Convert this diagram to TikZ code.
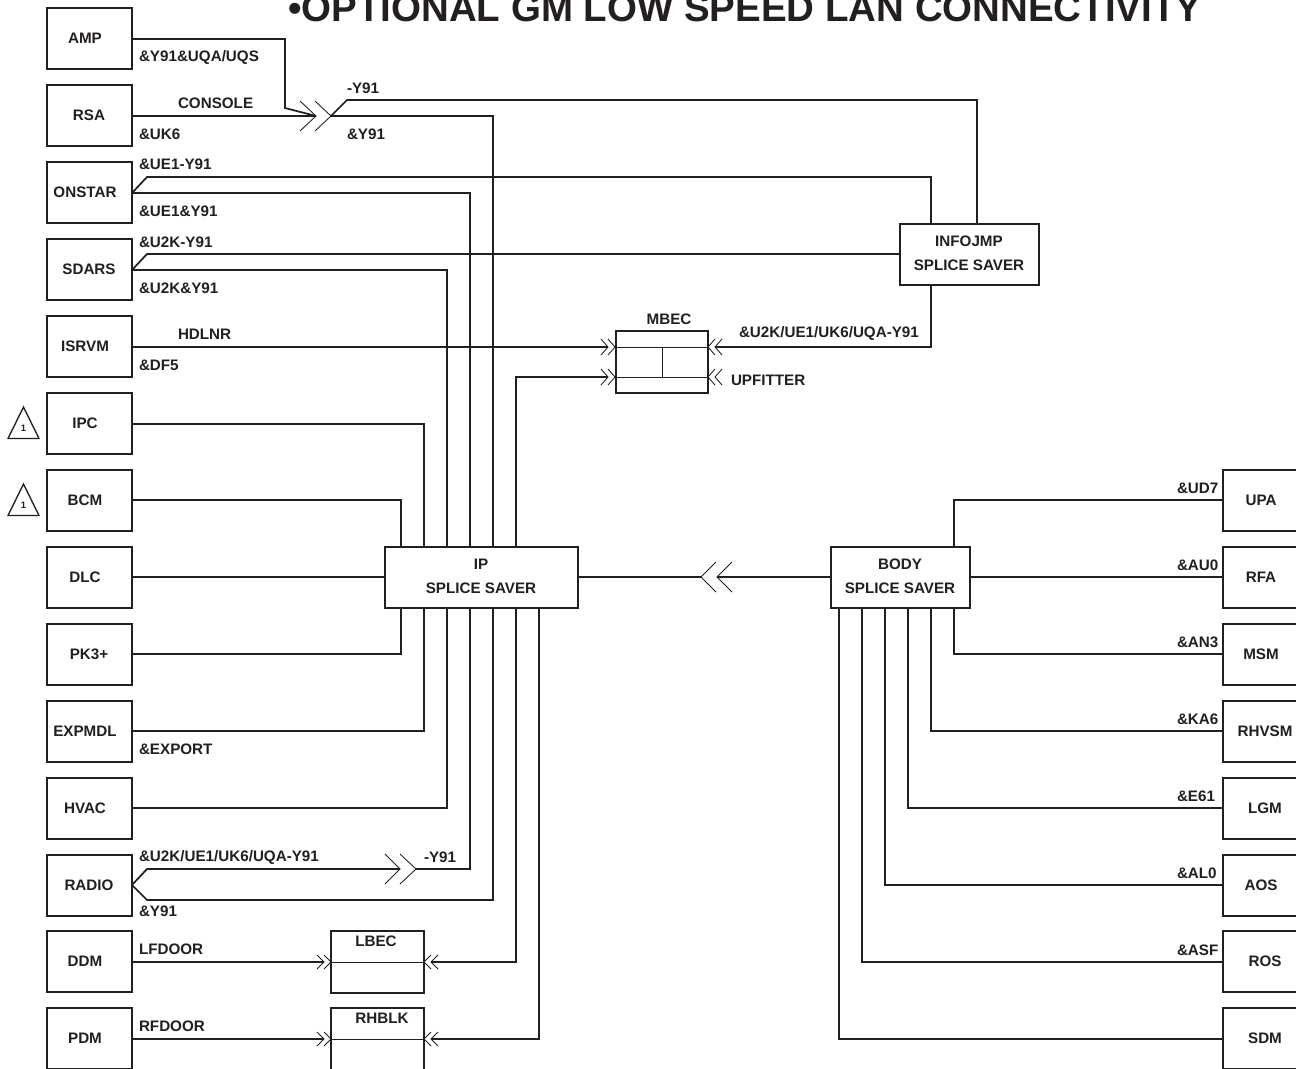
\documentclass[tikz,border=0pt]{standalone}
\usepackage{fontspec}
\setmainfont{Liberation Sans}
\definecolor{ink}{HTML}{231F20}
\newcommand{\chevr}[4]{\draw[chevline] (#1+#3,#2-#4) -- (#1,#2) -- (#1+#3,#2+#4);}
\newcommand{\lbox}[4]{\node[bx,minimum width=63.75pt,minimum height=45.75pt] (#1) at (89.5,#2) {};\node[lbl] (#1-t) at (#3,#2) {#4};}
\newcommand{\rbox}[4]{\node[bx,minimum width=63.75pt,minimum height=45.75pt] (#1) at (1265.5,#2) {};\node[lbl] (#1-t) at (#3,#2) {#4};}
\newcommand{\tagl}[4]{\node[lbl,anchor=west] (#1) at (#2,#3) {#4};}
\tikzset{
  bx/.style={draw=ink,line width=1.4pt,inner sep=0pt,outer sep=0pt,fill=none},
  lbl/.style={text=ink,inner sep=0pt,outer sep=0pt,font=\fontsize{11.4}{18}\selectfont\bfseries,align=center},
  wire/.style={draw=ink,line width=1.3pt,line join=miter},
  thin wire/.style={draw=ink,line width=0.6pt},
  chevline/.style={draw=ink,line width=0.65pt,line join=miter},
}
\begin{document}
\begin{tikzpicture}[x=0.75pt,y=-0.75pt]
\useasboundingbox (0,0) rectangle (1296,1068);
\clip (0,0) rectangle (1296,1068);
\fill[white] (0,0) rectangle (1296,1068);
\node[text=ink,anchor=base west,inner sep=0pt,font=\fontsize{28.85}{30}\selectfont\bfseries] (title) at (288,21.5) {•OPTIONAL GM LOW SPEED LAN CONNECTIVITY};
% left boxes
\lbox{amp}{38.5}{85}{AMP}
\lbox{rsa}{115.5}{89}{RSA}
\lbox{onstar}{192.5}{85}{ONSTAR}
\lbox{sdars}{269.5}{89}{SDARS}
\lbox{isrvm}{346.5}{85}{ISRVM}
\lbox{ipc}{423.5}{85}{IPC}
\lbox{bcm}{500.5}{85}{BCM}
\lbox{dlc}{577.5}{85}{DLC}
\lbox{pk}{654.5}{89}{PK3+}
\lbox{expmdl}{731.5}{85}{EXPMDL}
\lbox{hvac}{808.5}{85}{HVAC}
\lbox{radio}{885.5}{89}{RADIO}
\lbox{ddm}{961.5}{85}{DDM}
\lbox{pdm}{1038.5}{85}{PDM}
% right boxes
\rbox{upa}{500.5}{1261}{UPA}
\rbox{rfa}{577.5}{1261}{RFA}
\rbox{msm}{654.5}{1261}{MSM}
\rbox{rhvsm}{731.5}{1265}{RHVSM}
\rbox{lgm}{808.5}{1265}{LGM}
\rbox{aos}{885.5}{1261}{AOS}
\rbox{ros}{961.5}{1265}{ROS}
\rbox{sdm}{1038.5}{1265}{SDM}
% splice savers
\node[bx,minimum width=144.75pt,minimum height=45.75pt] (ip) at (481.5,577.5) {};
\node[lbl] (ip-t) at (481,576) {IP\\SPLICE SAVER};
\node[bx,minimum width=104.25pt,minimum height=45.75pt] (body) at (900.5,577.5) {};
\node[lbl] (body-t) at (900,576) {BODY\\SPLICE SAVER};
\node[bx,minimum width=104.25pt,minimum height=45.75pt] (info) at (969.5,254.5) {};
\node[lbl] (info-t) at (969,253) {INFOJMP\\SPLICE SAVER};
% control modules
\node[bx,minimum width=69pt,minimum height=46.5pt] (mbec) at (662,362) {};
\node[lbl] (mbec-t) at (669,319) {MBEC};
\node[bx,minimum width=69.75pt,minimum height=46.5pt] (lbec) at (377.5,962) {};
\node[lbl] (lbec-t) at (376,941) {LBEC};
\node[bx,minimum width=69.75pt,minimum height=46.5pt] (rhblk) at (377.5,1039) {};
\node[lbl] (rhblk-t) at (382,1018) {RHBLK};
\draw[thin wire] (mbec.west |- 0,347) -- (mbec.east |- 0,347);
\draw[thin wire] (mbec.west |- 0,377) -- (mbec.east |- 0,377);
\draw[thin wire] (mbec.center |- 0,347) -- (mbec.center |- 0,377);
\draw[thin wire] (lbec.west) -- (lbec.east);
\draw[thin wire] (rhblk.west) -- (rhblk.east);
% chevrons
\chevr{316}{116}{-16}{15}
\chevr{331}{116}{-16}{15}
\chevr{400}{869}{-15}{15}
\chevr{416}{869}{-16}{15}
\chevr{701}{577}{15}{15}
\chevr{717}{577}{15}{15}
\chevr{608}{347}{-7}{8}
\chevr{615}{347}{-7}{8}
\chevr{608}{377}{-7}{8}
\chevr{615}{377}{-7}{8}
\chevr{708}{347}{7}{8}
\chevr{715}{347}{7}{8}
\chevr{708}{377}{7}{8}
\chevr{715}{377}{7}{8}
\chevr{324}{962}{-7}{7}
\chevr{331}{962}{-7}{7}
\chevr{424}{962}{7}{7}
\chevr{431}{962}{7}{7}
\chevr{324}{1039}{-7}{7}
\chevr{331}{1039}{-7}{7}
\chevr{424}{1039}{7}{7}
\chevr{431}{1039}{7}{7}
\coordinate (jA) at (316,116);
\coordinate (jB) at (331,116);
\coordinate (jC) at (400,869);
\coordinate (jD) at (416,869);
\coordinate (jE) at (701,577);
\coordinate (jF) at (717,577);
\coordinate (jG) at (608,347);
\coordinate (jH) at (608,377);
\coordinate (jI) at (715,347);
\coordinate (jJ) at (324,962);
\coordinate (jK) at (431,962);
\coordinate (jL) at (324,1039);
\coordinate (jM) at (431,1039);
% upper wires
\draw[wire] (amp.east |- 0,39) -- (285,39) -- (285,108) -- (jA);
\draw[wire] (rsa.east |- jA) -- (jA);
\draw[wire] (jB) -- (493,116) -- (493,0 |- ip.north);
\draw[wire] (jB) -- (347,100) -- (977,100) -- (977,0 |- info.north);
\draw[wire] (onstar.east |- 0,193) -- (147,177) -- (931,177) -- (931,0 |- info.north);
\draw[wire] (onstar.east |- 0,193) -- (470,193) -- (470,0 |- ip.north);
\draw[wire] (sdars.east |- 0,270) -- (147,254) -- (info.west |- 0,254);
\draw[wire] (sdars.east |- 0,270) -- (447,270) -- (447,0 |- ip.north);
\draw[wire] (isrvm.east |- jG) -- (jG);
\draw[wire] (931,0 |- info.south) -- (931,347) -- (jI);
\draw[wire] (516,0 |- ip.north) -- (516,377) -- (jH);
\draw[wire] (ipc.east |- 0,424) -- (424,424) -- (424,0 |- ip.north);
\draw[wire] (bcm.east |- 0,500) -- (401,500) -- (401,0 |- ip.north);
\draw[wire] (dlc.east |- 0,577) -- (ip.west |- 0,577);
\draw[wire] (pk.east |- 0,654) -- (401,654) -- (401,0 |- ip.south);
\draw[wire] (expmdl.east |- 0,731) -- (424,731) -- (424,0 |- ip.south);
\draw[wire] (hvac.east |- 0,808) -- (447,808) -- (447,0 |- ip.south);
\draw[wire] (radio.east |- 0,885) -- (147,869) -- (jC);
\draw[wire] (jD) -- (470,869) -- (470,0 |- ip.south);
\draw[wire] (radio.east |- 0,885) -- (147,900) -- (493,900) -- (493,0 |- ip.south);
\draw[wire] (ddm.east |- jJ) -- (jJ);
\draw[wire] (pdm.east |- jL) -- (jL);
\draw[wire] (516,0 |- ip.south) -- (516,962) -- (jK);
\draw[wire] (539,0 |- ip.south) -- (539,1039) -- (jM);
\draw[wire] (ip.east |- jE) -- (jE);
\draw[wire] (jF) -- (body.west |- jF);
% right wires
\draw[wire] (upa.west |- 0,500) -- (954,500) -- (954,0 |- body.north);
\draw[wire] (rfa.west |- 0,577) -- (body.east |- 0,577);
\draw[wire] (msm.west |- 0,654) -- (954,654) -- (954,0 |- body.south);
\draw[wire] (rhvsm.west |- 0,731) -- (931,731) -- (931,0 |- body.south);
\draw[wire] (lgm.west |- 0,808) -- (908,808) -- (908,0 |- body.south);
\draw[wire] (aos.west |- 0,885) -- (885,885) -- (885,0 |- body.south);
\draw[wire] (ros.west |- 0,962) -- (862,962) -- (862,0 |- body.south);
\draw[wire] (sdm.west |- 0,1039) -- (839,1039) -- (839,0 |- body.south);
% labels
\tagl{a1}{139}{57.5}{\&Y91\&UQA/UQS}
\tagl{a2}{178}{103.5}{CONSOLE}
\tagl{a3}{139}{134.5}{\&UK6}
\tagl{a4}{347}{88.5}{-Y91}
\tagl{a5}{347}{134.5}{\&Y91}
\tagl{a6}{139}{164.5}{\&UE1-Y91}
\tagl{a7}{139}{211.5}{\&UE1\&Y91}
\tagl{a8}{139}{242.5}{\&U2K-Y91}
\tagl{a9}{139}{288.5}{\&U2K\&Y91}
\tagl{a10}{178}{334.5}{HDLNR}
\tagl{a11}{139}{365.5}{\&DF5}
\tagl{a12}{139}{749.5}{\&EXPORT}
\tagl{a13}{139}{857.5}{\&U2K/UE1/UK6/UQA-Y91}
\tagl{a14}{424}{857.5}{-Y91}
\tagl{a15}{139}{911.5}{\&Y91}
\tagl{a16}{139}{949.5}{LFDOOR}
\tagl{a17}{139}{1026.5}{RFDOOR}
\tagl{a18}{739}{333.5}{\&U2K/UE1/UK6/UQA-Y91}
\tagl{a19}{731}{380.5}{UPFITTER}
\tagl{b1}{1177}{488.5}{\&UD7}
\tagl{b2}{1177}{565.5}{\&AU0}
\tagl{b3}{1177}{642.5}{\&AN3}
\tagl{b4}{1177}{719.5}{\&KA6}
\tagl{b5}{1177}{796.5}{\&E61}
\tagl{b6}{1177}{873.5}{\&AL0}
\tagl{b7}{1177}{950.5}{\&ASF}
% revision triangles
\draw[draw=ink,line width=1pt,line join=miter] (23.5,407) -- (39,438.5) -- (8,438.5) -- cycle;
\node[text=ink,inner sep=0pt,font=\fontsize{7}{8}\selectfont\bfseries] (t1) at (23.5,428) {1};
\draw[draw=ink,line width=1pt,line join=miter] (23.5,484) -- (39,515.5) -- (8,515.5) -- cycle;
\node[text=ink,inner sep=0pt,font=\fontsize{7}{8}\selectfont\bfseries] (t2) at (23.5,505) {1};
\end{tikzpicture}
\end{document}
